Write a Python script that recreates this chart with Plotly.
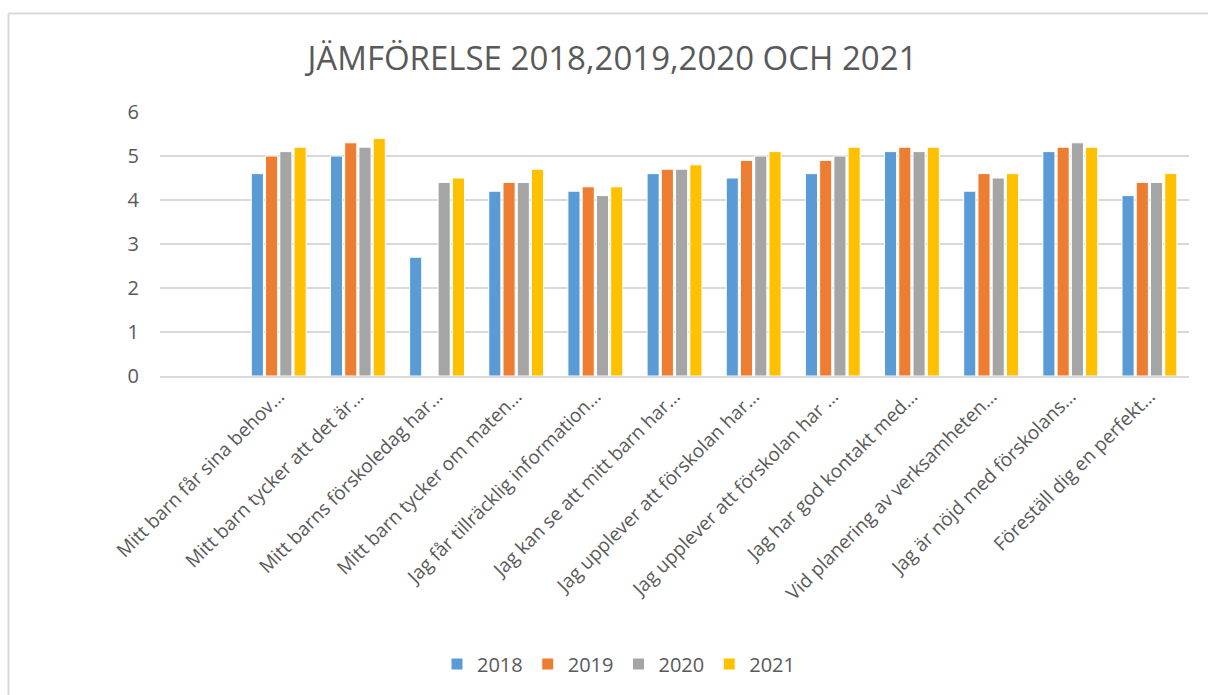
import plotly.graph_objects as go

# Survey statements (truncated as on the axis)
categories = [
    "Mitt barn får sina behov…",
    "Mitt barn tycker att det är…",
    "Mitt barns förskoledag har…",
    "Mitt barn tycker om maten…",
    "Jag får tillräcklig information…",
    "Jag kan se att mitt barn har…",
    "Jag upplever att förskolan har…",
    "Jag upplever att förskolan har …",
    "Jag har god kontakt med…",
    "Vid planering av verksamheten…",
    "Jag är nöjd med förskolans…",
    "Föreställ dig en perfekt…",
]

years = ["2018", "2019", "2020", "2021"]

values_2018 = [4.6, 5.0, 2.7, 4.2, 4.2, 4.6, 4.5, 4.6, 5.1, 4.2, 5.1, 4.1]
values_2019 = [5.0, 5.3, None, 4.4, 4.3, 4.7, 4.9, 4.9, 5.2, 4.6, 5.2, 4.4]
values_2020 = [5.1, 5.2, 4.4, 4.4, 4.1, 4.7, 5.0, 5.0, 5.1, 4.5, 5.3, 4.4]
values_2021 = [5.2, 5.4, 4.5, 4.7, 4.3, 4.8, 5.1, 5.2, 5.2, 4.6, 5.2, 4.6]

colors = ["#5B9BD5", "#ED7D31", "#A5A5A5", "#FFC000"]

series = [values_2018, values_2019, values_2020, values_2021]

FONT = "Open Sans"
TEXT = "#595959"
GRID = "#D9D9D9"

fig = go.Figure()
x_idx = list(range(len(categories)))
for name, vals, col in zip(years, series, colors):
    fig.add_trace(go.Bar(
        name=name,
        x=x_idx,
        y=vals,
        marker=dict(color=col, line=dict(color="white", width=1)),
    ))

W, H = 1208, 695
ML, MR, MT, MB = 160, 19, 112, 319
pw = W - ML - MR
ph = H - MT - MB

def px_x(p):
    return (p - ML) / pw

def px_y(p):
    return (H - MB - p) / ph

fig.update_layout(
    width=W,
    height=H,
    margin=dict(l=ML, r=MR, t=MT, b=MB),
    paper_bgcolor="white",
    plot_bgcolor="white",
    barmode="group",
    bargap=0.28,
    bargroupgap=0.15,
    font=dict(family=FONT, color=TEXT, size=19),
    title=dict(
        text="JÄMFÖRELSE 2018,2019,2020 OCH 2021",
        font=dict(family=FONT, size=33, color=TEXT),
        x=0.507, xref="container", xanchor="center",
        y=1 - 58 / H, yref="container", yanchor="middle",
    ),
    xaxis=dict(
        tickmode="array",
        tickvals=x_idx,
        ticktext=categories,
        range=[-1.5, len(categories) - 0.5],
        tickangle=-45,
        showgrid=False,
        showline=True,
        linecolor=GRID,
        linewidth=1.5,
        ticks="",
        ticklabelstandoff=0,
        tickfont=dict(family=FONT, size=19, color=TEXT),
        zeroline=False,
    ),
    yaxis=dict(
        range=[0, 6],
        dtick=1,
        showgrid=True,
        gridcolor=GRID,
        gridwidth=1.5,
        zeroline=False,
        showline=False,
        ticks="",
        ticklabelstandoff=20,
        tickfont=dict(family=FONT, size=20, color=TEXT),
    ),
    legend=dict(
        orientation="h",
        x=0.512, xref="container", xanchor="center",
        y=1 - 664 / H, yref="container", yanchor="middle",
        font=dict(family=FONT, size=20, color=TEXT),
        itemwidth=30,
        traceorder="normal",
    ),
    shapes=[
        # outer chart frame (top and left edges visible)
        dict(type="line", xref="paper", yref="paper",
             x0=px_x(8.5), x1=px_x(1220), y0=px_y(13.5), y1=px_y(13.5),
             line=dict(color=GRID, width=2)),
        dict(type="line", xref="paper", yref="paper",
             x0=px_x(8.5), x1=px_x(8.5), y0=px_y(13.5), y1=px_y(710),
             line=dict(color=GRID, width=2)),
    ],
)

fig.write_html("out.html")
